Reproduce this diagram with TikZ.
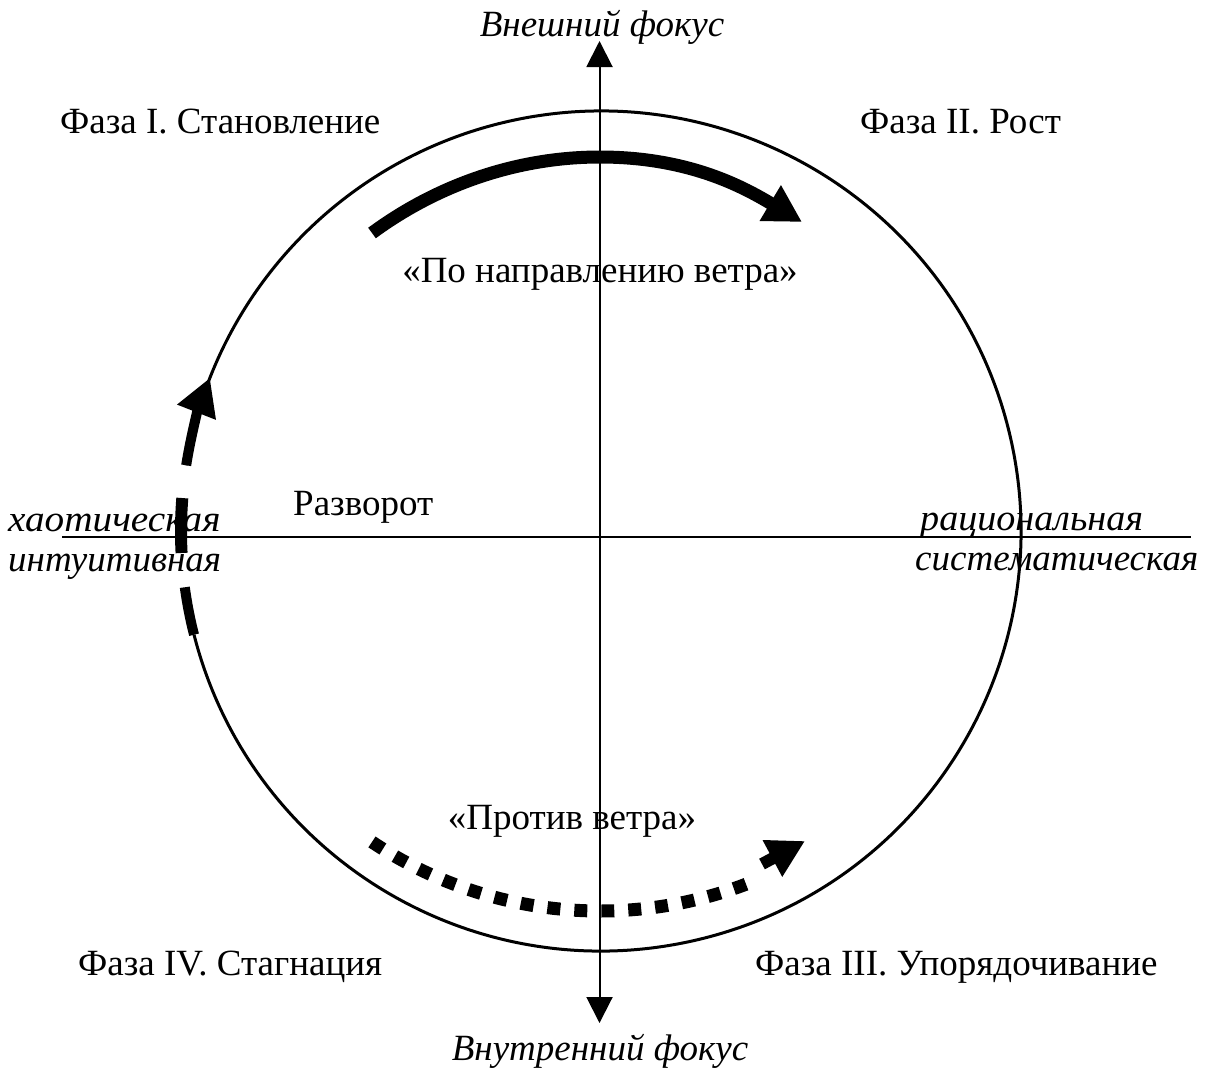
\documentclass[tikz,border=0pt]{standalone}
\usepackage{fontspec}
\setmainfont{Liberation Serif}
\usetikzlibrary{arrows.meta}
\begin{document}
\begin{tikzpicture}[x=1pt,y=-1pt,
  lbl/.style={inner sep=0pt,font=\fontsize{37}{44}\selectfont},
  ilbl/.style={lbl,font=\fontsize{37}{44}\selectfont\itshape},
  axis/.style={line width=2pt},
  ring/.style={line width=3pt},
  bigtip/.style={-{Triangle[width=39pt,length=37pt]}},
  axtip/.style={{Triangle[width=26pt,length=26pt]}-{Triangle[width=26pt,length=26pt]}}]
\useasboundingbox (0,0) rectangle (1214,1077);

% axes
\coordinate (axL) at (62,537);
\coordinate (axR) at (1191,537);
\coordinate (axT) at (599.5,41);
\coordinate (axB) at (599.5,1023);
\draw[axis] (axL) -- (axR);
\draw[axis,axtip] (axB) -- (axT);

% cycle ring (centre 601,531; radius 420), open on the left
\coordinate (O) at (601,531);
\draw[ring] ([shift={(165.7:420)}]O) arc[start angle=165.7,end angle=-171,radius=420];
% heavy pieces on the left side
\draw[line width=10pt] ([shift={(172.3:420)}]O) arc[start angle=172.3,end angle=165.7,radius=420];
\draw[line width=12pt] ([shift={(177:420)}]O) arc[start angle=177,end angle=184.5,radius=420];
\draw[line width=10pt,bigtip] ([shift={(189:420)}]O) arc[start angle=189,end angle=201.4,radius=420];

% upper flow arrow
\coordinate (us) at (372,233);
\coordinate (um) at (600,157);
\coordinate (utip) at (802,222);
\draw[line width=13pt,bigtip] (us) .. controls (440,183) and (520,157) .. (um)
  .. controls (690,157) and (745,188) .. (utip);

% lower dotted flow arrow
\coordinate (D) at (600,500);
\coordinate (dtip) at (805,841);
\draw[line width=13pt,dash pattern=on 13pt off 14pt] ([shift={(123.7:411)}]D) arc[start angle=123.7,end angle=68,radius=411];
\draw[line width=12pt,bigtip] (762,864) -- (dtip);

% labels
\node[ilbl,anchor=base] (ext) at (602,36) {Внешний фокус};
\node[ilbl,anchor=base] (int) at (600,1060) {Внутренний фокус};
\node[lbl,anchor=base west] (ph1) at (60,133) {Фаза I. Становление};
\node[lbl,anchor=base west] (ph2) at (860,133) {Фаза II. Рост};
\node[lbl,anchor=base west] (ph4) at (78,975) {Фаза IV. Стагнация};
\node[lbl,anchor=base west] (ph3) at (755,975) {Фаза III. Упорядочивание};
\node[lbl,anchor=base] (wind) at (600,282) {«По направлению ветра»};
\node[lbl,anchor=base] (against) at (572,829) {«Против ветра»};
\node[lbl,anchor=base west] (turn) at (293,515) {Разворот};
\node[ilbl,anchor=base west,xscale=1.06] (chaos) at (8,531) {хаотическая};
\node[ilbl,anchor=base west] (intu) at (8,571) {интуитивная};
\node[ilbl,anchor=base west,xscale=1.03] (ratio) at (920,530) {рациональная};
\node[ilbl,anchor=base west] (syst) at (915,570) {систематическая};
\end{tikzpicture}
\end{document}
